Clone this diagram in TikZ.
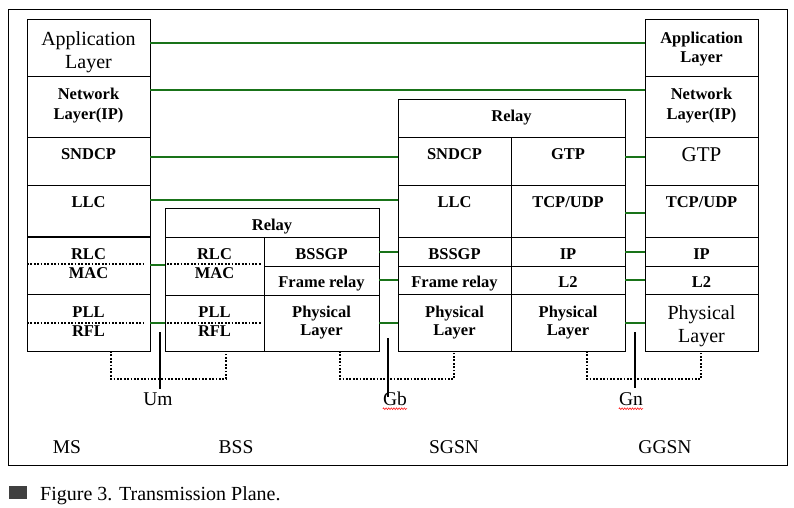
\documentclass[tikz,border=0pt]{standalone}
\usepackage{fontspec}
\setmainfont{Liberation Serif}
\usetikzlibrary{decorations.pathmorphing}
\definecolor{lgreen}{RGB}{25,115,25}
\definecolor{capgray}{RGB}{64,64,64}
\newcommand\cellbox[5]{\node[cell, minimum width={#4-#2}, minimum height={#5-#3}] (#1) at ({(#2+#4)/2},{(#3+#5)/2}) {};}
\begin{document}
\begin{tikzpicture}[x=1pt,y=-1pt,
  cell/.style={draw, line width=1pt, inner sep=0pt, outer sep=0pt, rectangle},
  bt/.style={inner sep=0pt, font=\fontsize{16.5}{19.5}\selectfont\bfseries, anchor=base},
  rt/.style={inner sep=0pt, font=\fontsize{20}{23}\selectfont, anchor=base},
  lt/.style={inner sep=0pt, font=\fontsize{19.5}{22}\selectfont, anchor=base},
  gl/.style={draw=lgreen, line width=2pt},
  dotl/.style={line width=1.8pt, dash pattern=on 1.8pt off 1.6pt},
  ifl/.style={line width=2pt},
  squig/.style={draw=red, line width=0.5pt, decorate, decoration={zigzag, segment length=2.6pt, amplitude=0.9pt}}
]
\useasboundingbox (0,0) rectangle (794,507);
\draw[line width=1pt] (8,9) rectangle (787,465);

% ---- MS stack
\cellbox{msApp}{27}{19}{150}{76}
\cellbox{msNet}{27}{76}{150}{137}
\cellbox{msSnd}{27}{137}{150}{185}
\cellbox{msLlc}{27}{185}{150}{237}
\cellbox{msRlc}{27}{237}{150}{294}
\cellbox{msPll}{27}{294}{150}{351}
\draw[line width=2pt] (msLlc.south west) -- (msLlc.south east);

% ---- BSS stack
\cellbox{bsRelay}{165}{208}{379}{237}
\cellbox{bsRlc}{165}{237}{264}{295}
\cellbox{bsPll}{165}{295}{264}{351}
\cellbox{bsBssgp}{264}{237}{379}{266}
\cellbox{bsFr}{264}{266}{379}{295}
\cellbox{bsPhy}{264}{295}{379}{351}

% ---- SGSN stack
\cellbox{sgRelay}{398}{99}{625}{137}
\cellbox{sgSnd}{398}{137}{511}{185}
\cellbox{sgGtp}{511}{137}{625}{185}
\cellbox{sgLlc}{398}{185}{511}{237}
\cellbox{sgTcp}{511}{185}{625}{237}
\cellbox{sgBssgp}{398}{237}{511}{266}
\cellbox{sgIp}{511}{237}{625}{266}
\cellbox{sgFr}{398}{266}{511}{294}
\cellbox{sgL2}{511}{266}{625}{294}
\cellbox{sgPhyL}{398}{294}{511}{351}
\cellbox{sgPhyR}{511}{294}{625}{351}

% ---- GGSN stack
\cellbox{ggApp}{645}{19}{758}{76}
\cellbox{ggNet}{645}{76}{758}{137}
\cellbox{ggGtp}{645}{137}{758}{185}
\cellbox{ggTcp}{645}{185}{758}{237}
\cellbox{ggIp}{645}{237}{758}{266}
\cellbox{ggL2}{645}{266}{758}{294}
\cellbox{ggPhy}{645}{294}{758}{351}

% ---- texts MS
\node[inner sep=0pt, font=\fontsize{20}{23}\selectfont, align=center] (tmsApp) at (88.5,51.8) {Application\\Layer};
\node[inner sep=0pt, font=\fontsize{16.5}{20}\selectfont\bfseries, align=center] (tmsNet) at (88.5,105.1) {Network\\Layer(IP)};
\node[bt] (tmsSnd) at (88.5,159) {SNDCP};
\node[bt] (tmsLlc) at (88.5,207) {LLC};
\node[bt] (tmsRlc) at (88.5,259) {RLC};
\node[bt] (tmsMac) at (88.5,278) {MAC};
\node[bt] (tmsPll) at (88.5,317) {PLL};
\node[bt] (tmsRfl) at (88.5,336) {RFL};

% ---- texts BSS
\node[bt] (tbsRelay) at (272,230) {Relay};
\node[bt] (tbsRlc) at (214.5,259) {RLC};
\node[bt] (tbsMac) at (214.5,278) {MAC};
\node[bt] (tbsPll) at (214.5,317) {PLL};
\node[bt] (tbsRfl) at (214.5,336) {RFL};
\node[bt] (tbsBssgp) at (321.5,259) {BSSGP};
\node[bt] (tbsFr) at (321.5,287) {Frame relay};
\node[inner sep=0pt, font=\fontsize{16.5}{18}\selectfont\bfseries, align=center] (tbsPhy) at (321.5,322.2) {Physical\\Layer};

% ---- texts SGSN
\node[bt] (tsgRelay) at (511.5,121.5) {Relay};
\node[bt] (tsgSnd) at (454.5,159) {SNDCP};
\node[bt] (tsgGtp) at (568,159) {GTP};
\node[bt] (tsgLlc) at (454.5,207) {LLC};
\node[bt] (tsgTcp) at (568,207) {TCP/UDP};
\node[bt] (tsgBssgp) at (454.5,259) {BSSGP};
\node[bt] (tsgIp) at (568,259) {IP};
\node[bt] (tsgFr) at (454.5,287) {Frame relay};
\node[bt] (tsgL2) at (568,287) {L2};
\node[inner sep=0pt, font=\fontsize{16.5}{18}\selectfont\bfseries, align=center] (tsgPhyL) at (454.5,322.2) {Physical\\Layer};
\node[inner sep=0pt, font=\fontsize{16.5}{18}\selectfont\bfseries, align=center] (tsgPhyR) at (568,322.2) {Physical\\Layer};

% ---- texts GGSN
\node[inner sep=0pt, font=\fontsize{16.5}{19}\selectfont\bfseries, align=center] (tggApp) at (701.5,48.6) {Application\\Layer};
\node[inner sep=0pt, font=\fontsize{16.5}{20}\selectfont\bfseries, align=center] (tggNet) at (701.5,105.1) {Network\\Layer(IP)};
\node[inner sep=0pt, font=\fontsize{21}{24}\selectfont, anchor=base] (tggGtp) at (701.5,161) {GTP};
\node[bt] (tggTcp) at (701.5,207) {TCP/UDP};
\node[bt] (tggIp) at (701.5,259) {IP};
\node[bt] (tggL2) at (701.5,287) {L2};
\node[inner sep=0pt, font=\fontsize{20}{23}\selectfont, align=center] (tggPhy) at (701.5,325.8) {Physical\\Layer};

% ---- dotted sublayer separators
\draw[dotl, shorten >=5pt] (msRlc.west |- 0,264) -- (msRlc.east |- 0,264);
\draw[dotl, shorten >=5pt] (msPll.west |- 0,323) -- (msPll.east |- 0,323);
\draw[dotl, shorten <=2pt, shorten >=2pt] (bsRlc.west |- 0,264) -- (bsRlc.east |- 0,264);
\draw[dotl, shorten <=2pt, shorten >=2pt] (bsPll.west |- 0,323) -- (bsPll.east |- 0,323);

% ---- peer connectors
\draw[gl] (msApp.east |- 0,43) -- (ggApp.west |- 0,43);
\draw[gl] (msNet.east |- 0,90) -- (ggNet.west |- 0,90);
\draw[gl] (msSnd.east |- 0,157) -- (sgSnd.west |- 0,157);
\draw[gl] (msLlc.east |- 0,200) -- (sgLlc.west |- 0,200);
\draw[gl] (msRlc.east |- 0,265) -- (bsRlc.west |- 0,265);
\draw[gl] (msPll.east |- 0,323) -- (bsPll.west |- 0,323);
\draw[gl] (bsBssgp.east |- 0,252) -- (sgBssgp.west |- 0,252);
\draw[gl] (bsFr.east |- 0,280) -- (sgFr.west |- 0,280);
\draw[gl] (bsPhy.east |- 0,323) -- (sgPhyL.west |- 0,323);
\draw[gl] (sgGtp.east |- 0,157) -- (ggGtp.west |- 0,157);
\draw[gl] (sgTcp.east |- 0,213) -- (ggTcp.west |- 0,213);
\draw[gl] (sgIp.east |- 0,252) -- (ggIp.west |- 0,252);
\draw[gl] (sgL2.east |- 0,280) -- (ggL2.west |- 0,280);
\draw[gl] (sgPhyR.east |- 0,323) -- (ggPhy.west |- 0,323);

% ---- interface labels
\node[lt] (um) at (158,405.7) {Um};
\node[lt] (gb) at (395,405.7) {Gb};
\node[lt] (gn) at (631,405.7) {Gn};
\coordinate (umTop) at (160,332);
\coordinate (gbTop) at (388,338);
\coordinate (gnTop) at (635,332);
\draw[ifl] (umTop) -- (umTop |- 0,389);
\draw[ifl] (gbTop) -- (gbTop |- 0,397);
\draw[ifl] (gnTop) -- (gnTop |- 0,388);
\draw[squig] ([yshift=-3pt]gb.base west) -- ([yshift=-3pt]gb.base east);
\draw[squig] ([yshift=-3pt]gn.base west) -- ([yshift=-3pt]gn.base east);

% ---- dotted interface brackets
\coordinate (umBot) at (168,379);
\coordinate (gbBot) at (397,379);
\coordinate (gnBot) at (644,379);
\draw[dotl] (msPll.south -| 111,0) |- (umBot) -| (bsPll.south -| 226,0);
\draw[dotl] (bsPhy.south -| 340,0) |- (gbBot) -| (sgPhyL.south -| 454,0);
\draw[dotl] (sgPhyR.south -| 587,0) |- (gnBot) -| (ggPhy.south -| 701,0);

% ---- entity labels
\node[lt] (lMS) at (67,453) {MS};
\node[lt] (lBSS) at (236,453) {BSS};
\node[lt] (lSGSN) at (454,453) {SGSN};
\node[lt] (lGGSN) at (665,453) {GGSN};

% ---- caption
\fill[capgray] (9,486) rectangle (27,499);
\node[inner sep=0pt, font=\fontsize{20}{23}\selectfont, anchor=base west] (cap) at (40,500) {Figure 3. Transmission Plane.};
\end{tikzpicture}
\end{document}
